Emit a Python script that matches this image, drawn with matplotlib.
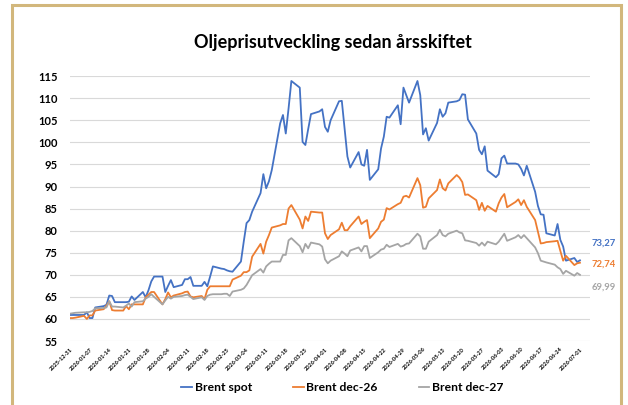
import matplotlib
matplotlib.use("Agg")
import matplotlib.pyplot as plt
import matplotlib.dates as mdates
from matplotlib.patches import Rectangle
import pandas as pd

plt.rcParams['font.family'] = ['Lato', 'DejaVu Sans']

# Trading days from 2025-12-31 to 2026-07-01 (rows: Wed, Thu, Fri, Mon, Tue)
dates = pd.bdate_range('2025-12-31', '2026-07-01')

brent_spot = [
    60.9, 60.9, 60.9, 60.9, 61.5,
    60.2, 60.2, 62.6, 62.9, 63.2,
    65.3, 65.2, 63.8, 63.8, 63.8,
    63.9, 65.1, 64.3, 66.1, 64.9,
    66.5, 68.5, 69.6, 69.6, 66.1,
    67.5, 68.8, 67.2, 67.7, 69.0,
    69.0, 69.5, 67.5, 67.5, 68.4,
    67.4, 69.6, 71.9, 71.4, 71.3,
    71.0, 70.8, 70.7, 73.0, 77.5,
    81.7, 82.4, 84.3, 88.5, 92.8,
    89.6, 91.2, 93.7, 104.3, 106.2,
    102.0, 107.7, 113.9, 112.4, 100.1,
    99.4, 103.0, 106.4, 107.0, 107.5,
    103.5, 102.4, 105.0, 109.3, 109.4,
    103.0, 96.8, 94.3, 97.8, 95.0,
    94.7, 98.3, 91.5, 93.9, 98.6,
    101.3, 105.8, 105.6, 108.4, 104.1,
    112.4, 110.7, 109.0, 113.9, 110.7,
    101.8, 103.2, 100.4, 104.4, 107.5,
    105.8, 106.6, 109.0, 109.3, 109.6,
    110.9, 110.8, 105.2, 102.0, 98.3,
    97.3, 99.1, 93.6, 92.1, 92.8,
    96.4, 97.0, 95.2, 95.2, 95.0,
    94.0, 92.5, 94.7, 88.8, 85.6,
    83.7, 83.6, 79.4, 78.9, 81.5,
    77.9, 76.4, 73.2, 73.8, 72.9,
    73.27,
]

brent_dec26 = [
    60.2, 60.2, 60.3, 60.7, 60.0,
    60.8, 60.8, 61.9, 62.2, 63.0,
    64.0, 62.0, 61.9, 61.9, 62.9,
    62.2, 63.3, 63.3, 63.3, 64.9,
    65.5, 66.1, 66.1, 63.3, 64.5,
    66.0, 64.9, 65.3, 65.8, 66.1,
    66.2, 65.1, 64.9, 65.2, 64.5,
    66.6, 67.4, 67.4, 67.4, 67.4,
    67.4, 67.4, 68.9, 69.8, 70.6,
    70.6, 71.0, 74.1, 77.0, 74.8,
    77.5, 79.0, 80.7, 81.2, 81.5,
    81.5, 85.0, 85.8, 82.5, 80.5,
    83.2, 82.2, 84.3, 84.1, 84.1,
    79.4, 78.1, 79.0, 80.3, 81.8,
    80.1, 80.1, 81.0, 83.2, 81.5,
    82.0, 82.4, 78.3, 80.5, 82.0,
    82.5, 85.1, 84.8, 86.0, 86.3,
    87.7, 87.9, 87.5, 91.9, 90.3,
    85.2, 85.4, 87.3, 89.2, 91.6,
    89.6, 89.1, 90.7, 92.6, 92.0,
    91.0, 88.1, 88.2, 86.9, 84.7,
    86.3, 84.5, 85.6, 84.3, 86.2,
    87.5, 88.3, 85.3, 86.5, 87.1,
    85.8, 86.9, 85.4, 82.4, 79.8,
    77.1, 77.2, 77.4, 77.6, 77.7,
    75.4, 73.2, 74.3, 72.2, 72.6,
    72.74,
]

brent_dec27 = [
    61.2, 61.3, 61.4, 61.5, 61.5,
    61.6, 61.8, 62.4, 62.5, 62.6,
    64.0, 62.8, 62.8, 62.6, 63.0,
    63.5, 62.8, 63.8, 64.0, 64.6,
    65.0, 65.6, 65.0, 63.3, 64.2,
    65.0, 64.6, 65.0, 65.2, 65.4,
    65.5, 65.0, 64.5, 64.9, 64.3,
    65.2, 65.5, 65.6, 65.6, 65.7,
    65.7, 65.2, 66.2, 66.6, 66.9,
    67.7, 68.8, 69.9, 71.3, 70.5,
    71.9, 72.5, 73.0, 73.0, 74.5,
    74.5, 77.8, 78.3, 76.5, 75.1,
    77.0, 76.0, 77.3, 76.9, 76.4,
    73.5, 72.6, 73.2, 74.2, 75.3,
    74.8, 74.2, 75.5, 76.2, 75.3,
    76.5, 76.5, 73.8, 75.1, 75.7,
    75.9, 76.8, 76.3, 77.0, 76.4,
    76.6, 77.0, 77.1, 79.3, 78.7,
    75.9, 75.9, 77.5, 79.0, 80.2,
    79.0, 78.7, 79.3, 80.0, 79.6,
    79.4, 77.8, 77.7, 77.2, 76.6,
    77.3, 76.6, 77.5, 76.9, 77.5,
    78.4, 79.3, 77.7, 78.5, 79.0,
    78.3, 79.0, 78.3, 76.2, 74.9,
    73.2, 73.0, 72.8, 72.3, 71.7,
    71.3, 70.2, 70.9, 69.8, 70.4,
    69.99,
]

series = [('Brent spot', brent_spot, '#4472C4'),
          ('Brent dec-26', brent_dec26, '#ED7D31'),
          ('Brent dec-27', brent_dec27, '#A5A5A5')]
end_labels = ['73,27', '72,74', '69,99']
label_offsets = [17, -1, -12]  # pixels, to keep end labels apart

tick_dates = pd.date_range('2025-12-31', '2026-07-01', freq='7D')
y_ticks = list(range(55, 116, 5))

fig = plt.figure(figsize=(6.28, 4.05), dpi=100)
ax = fig.add_axes([0.1115, 0.158, 0.828, 0.654])

for (name, vals, col), lab, off in zip(series, end_labels, label_offsets):
    ax.plot(dates, vals, color=col, lw=1.3, label=name)
    ax.annotate(lab, xy=(dates[-1], vals[-1]), xytext=(12, off),
                textcoords='offset pixels', ha='left', va='center',
                color=col, fontsize=6.8, fontweight='bold')

ax.set_ylim(55, 115)
ax.set_yticks(y_ticks)
ax.set_xlim(pd.Timestamp('2025-12-31'), pd.Timestamp('2026-07-04 14:00'))
ax.set_xticks(tick_dates)
ax.xaxis.set_major_formatter(mdates.DateFormatter('%Y-%m-%d'))
for t in ax.get_xticklabels():
    t.set_rotation(45)
    t.set_ha('right')
    t.set_va('top')
    t.set_rotation_mode('anchor')
    t.set_fontsize(4)
    t.set_fontweight('bold')
for t in ax.get_yticklabels():
    t.set_fontsize(8)
    t.set_fontweight('bold')

ax.tick_params(axis='both', length=0, pad=4)
ax.tick_params(axis='y', pad=9)
ax.grid(True, axis='y', color='#D9D9D9', lw=0.8)
ax.set_axisbelow(True)
for s in ax.spines.values():
    s.set_visible(False)

fig.text(0.53, 0.894, 'Oljeprisutveckling sedan årsskiftet',
         ha='center', va='center', fontsize=13, fontweight='bold')

fig.legend(loc='center', bbox_to_anchor=(0.545, 0.042), ncol=3, frameon=False,
           handlelength=0.9, handletextpad=0.2, columnspacing=3.4,
           prop={'size': 8.7, 'weight': 'bold'})

# tan frame around the chart area
fig.patches.append(Rectangle((12 / 628, -0.05), 609 / 628, 1.05 - 5 / 405,
                             transform=fig.transFigure, fill=False,
                             edgecolor='#D2B77C', lw=2.2))

fig.savefig('out.png', dpi=100)
